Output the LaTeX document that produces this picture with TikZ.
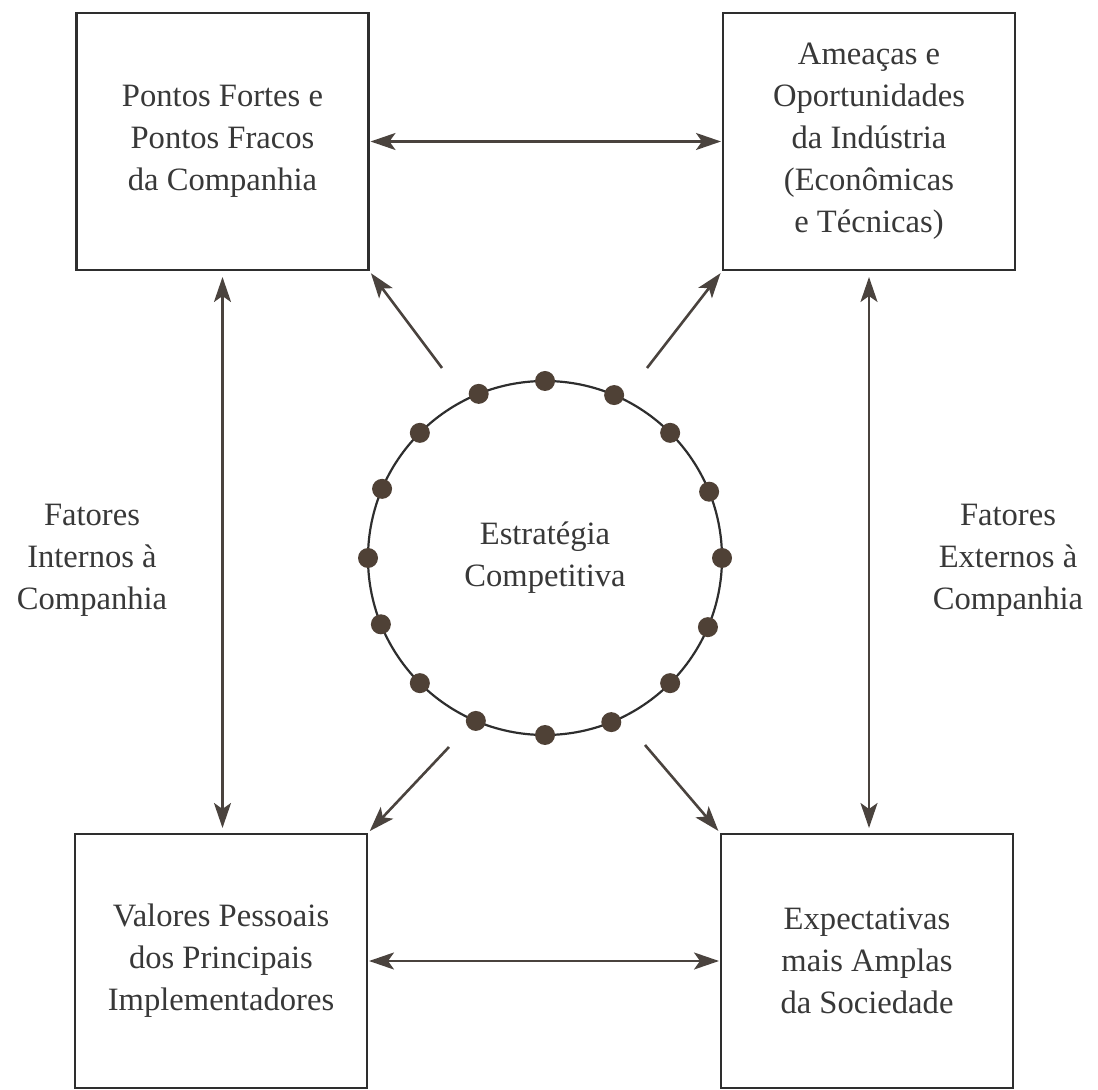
\documentclass[tikz,border=0pt]{standalone}
\usepackage{fontspec}
\setmainfont{Liberation Serif}
\usetikzlibrary{arrows.meta}
\definecolor{boxc}{HTML}{2E2E2E}
\definecolor{arrc}{HTML}{4A433E}
\definecolor{dotc}{HTML}{4F4136}
\definecolor{txtc}{HTML}{383838}
\newcommand\txtfont{\fontsize{16.3}{21}\selectfont}
\begin{document}
\begin{tikzpicture}[x=0.5pt,y=-0.5pt,
  box/.style={draw=boxc, line width=1.4pt, inner sep=0pt, outer sep=0pt,
    minimum width=146pt, minimum height=128.5pt, align=center, text=txtc, font=\txtfont},
  lbl/.style={align=center, text=txtc, font=\txtfont},
  tip/.tip={Stealth[length=12.5pt,width=8.5pt,inset=3pt]},
  arr/.style={draw=arrc, line width=1.3pt, -tip},
  darr/.style={draw=arrc, line width=1.3pt, tip-tip},
  ring/.style={circle, draw=boxc, line width=1.1pt, inner sep=0pt, outer sep=0pt,
    minimum size=177pt, align=center, text=txtc, font=\txtfont},
  dot/.style={fill=dotc}]
\useasboundingbox (0,0) rectangle (1098,1090);

\node[box] (TL) at (222.5,141.5) {Pontos Fortes e\\Pontos Fracos\\da Companhia};
\node[box] (TR) at (869,141.5) {Ameaças e\\Oportunidades\\da Indústria\\(Econômicas\\e Técnicas)};
\node[box, minimum height=127pt] (BL) at (221,961) {Valores Pessoais\\dos Principais\\Implementadores};
\node[box, minimum height=127pt] (BR) at (867,961) {Expectativas\\mais Amplas\\da Sociedade};

\node[ring] (C) at (545,558) {Estratégia\\Competitiva};
\foreach \a in {0,22.5,...,337.5} \fill[dot] (C.\a) circle (5pt);

\node[lbl] (LI) at (92,560) {Fatores\\Internos à\\Companhia};
\node[lbl] (LE) at (1008,560) {Fatores\\Externos à\\Companhia};

\draw[darr, shorten <=1pt, shorten >=1pt] (TL) -- (TR);
\draw[darr, shorten <=1pt, shorten >=1pt] (BL) -- (BR);
\draw[darr, shorten <=3.5pt, shorten >=3pt] (TL.south) -- (TL.south |- BL.north);
\draw[darr, shorten <=3.5pt, shorten >=3pt] (TR.south) -- (TR.south |- BR.north);

\coordinate (d1) at (442,368);
\coordinate (d2) at (647,368);
\coordinate (d3) at (449,747);
\coordinate (d4) at (645,745);
\draw[arr, shorten >=2pt] (d1) -- (TL.south east);
\draw[arr, shorten >=2pt] (d2) -- (TR.south west);
\draw[arr, shorten >=2pt] (d3) -- (BL.north east);
\draw[arr, shorten >=2pt] (d4) -- (BR.north west);
\end{tikzpicture}
\end{document}
